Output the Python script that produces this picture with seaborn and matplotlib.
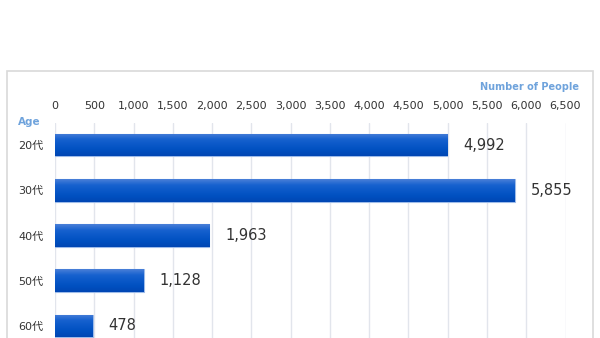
import numpy as np
import pandas as pd
import matplotlib
matplotlib.use("Agg")
import matplotlib.pyplot as plt
from matplotlib.colors import LinearSegmentedColormap
from matplotlib.patches import Rectangle
import seaborn as sns

ages = ["20代", "30代", "40代", "50代", "60代"]
people = [4992, 5855, 1963, 1128, 478]
x_ticks = list(range(0, 7000, 500))

sns.set_theme(style="white")
plt.rcParams["font.family"] = ["DejaVu Sans", "Noto Sans CJK JP"]

df = pd.DataFrame({"age": ages, "people": people})

W, H = 600, 338
fig = plt.figure(figsize=(W / 100, H / 100), dpi=100)
fig.patch.set_facecolor("white")

# light grey frame around the chart area (continues below the visible canvas)
frame = Rectangle((7 / W, -0.2), (593 - 7) / W, 1.2 - 70.5 / H,
                  transform=fig.transFigure, fill=False,
                  edgecolor="#d9d9d9", linewidth=1.2)
fig.add_artist(frame)

left, right = 55 / W, 565.5 / W
top = 1 - 122.5 / H
bottom = 1 - 348.5 / H
ax = fig.add_axes([left, bottom, right - left, top - bottom])

sns.barplot(data=df, y="age", x="people", orient="h", ax=ax,
            color="#0a58c8", width=0.5, edgecolor="#9dbbe9", linewidth=0.8,
            zorder=3)

ax.set_xticks(x_ticks)
ax.set_xticklabels([f"{v:,}" for v in x_ticks])
ax.xaxis.tick_top()
ax.tick_params(axis="x", length=0, pad=8, labelsize=8, colors="#333333")
ax.tick_params(axis="y", length=0, pad=8.5, labelsize=8, colors="#333333")
ax.grid(axis="x", color="#e2e5ec", linewidth=1.0, zorder=0)
ax.grid(axis="y", visible=False)
for s in ax.spines.values():
    s.set_visible(False)
ax.set_xlabel("")
ax.set_ylabel("")

# vertical gradient fill on each bar
cmap = LinearSegmentedColormap.from_list(
    "barshade", ["#4a7fd8", "#1862cf", "#0a58c8", "#0050c0", "#0046b4"])
grad = np.linspace(0, 1, 64).reshape(-1, 1)
for patch in ax.patches:
    x0, y0 = patch.get_x(), patch.get_y()
    w, h = patch.get_width(), patch.get_height()
    im = ax.imshow(grad, cmap=cmap, aspect="auto",
                   extent=(x0, x0 + w, y0 + h, y0), origin="upper",
                   zorder=3.5)
    im.set_clip_path(patch)

ax.set_xlim(0, 6500)
ax.set_ylim(len(ages) - 0.5, -0.5)

# value labels
for i, v in enumerate(people):
    ax.annotate(f"{v:,}", xy=(v, i), xytext=(16, 0),
                textcoords="offset pixels",
                va="center", ha="left", fontsize=10.5, color="#333333",
                zorder=5)

fig.text(18 / W, 1 - 122 / H, "Age", fontsize=7.5, fontweight="bold",
         color="#6fa3dc", va="center", ha="left")
fig.text(579 / W, 1 - 87.5 / H, "Number of People", fontsize=7,
         fontweight="bold", color="#6fa3dc", va="center", ha="right")

fig.savefig("out.png", dpi=100, facecolor="white")
